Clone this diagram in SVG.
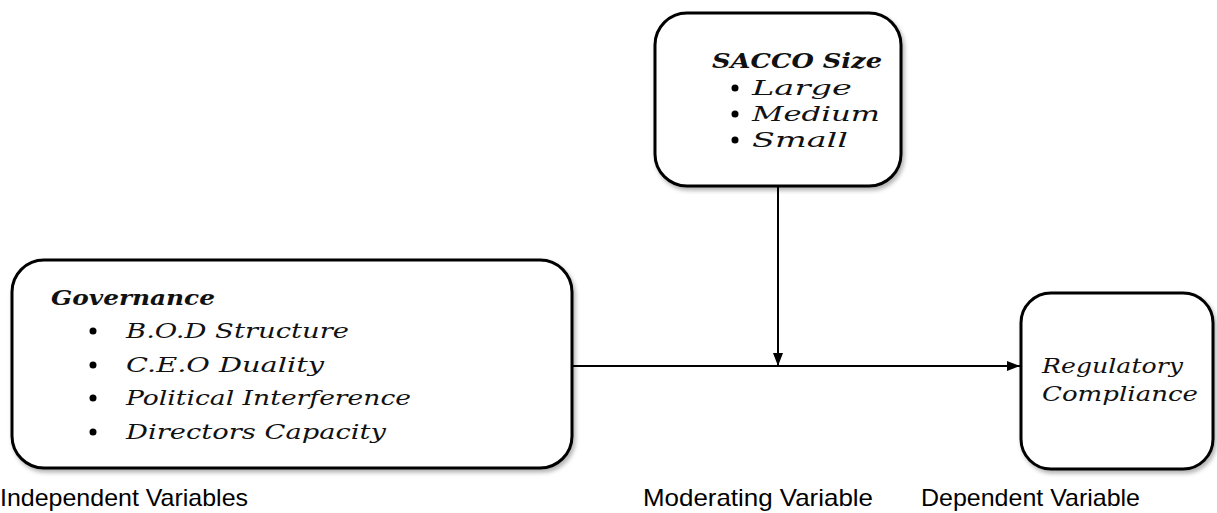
<svg xmlns="http://www.w3.org/2000/svg" width="1217" height="513" viewBox="0 0 1217 513">
<defs>
<marker id="arr" markerWidth="13" markerHeight="10" refX="13" refY="5" orient="auto" markerUnits="userSpaceOnUse">
<path d="M0,0 L13,5 L0,10 Z" fill="#000"/>
</marker>
<filter id="sh" x="-5%" y="-5%" width="110%" height="115%">
<feDropShadow dx="2" dy="3" stdDeviation="2" flood-color="#000" flood-opacity="0.3"/>
</filter>
</defs>
<style>
.box{fill:#fff;stroke:#000;stroke-width:3;filter:url(#sh)}
.t{font-family:"DejaVu Serif","Liberation Serif",serif;font-style:italic;font-size:21px;fill:#111}
.h{font-weight:bold}
.lbl{font-family:"Liberation Sans",Arial,sans-serif;font-size:24px;fill:#000}
.ln{stroke:#000;stroke-width:2;fill:none}
</style>
<rect width="1217" height="513" fill="#fff"/>
<g id="connectors">
<line class="ln" x1="572" y1="366" x2="1020" y2="366" marker-end="url(#arr)"/>
<line class="ln" x1="778" y1="186" x2="778" y2="366" marker-end="url(#arr)"/>
</g>
<g id="sacco">
<rect class="box" x="655" y="13" width="246" height="173" rx="32"/>
<text class="t h" x="712" y="68" textLength="170" lengthAdjust="spacingAndGlyphs">SACCO Size</text>
<circle cx="735" cy="88" r="3.5"/><text class="t" x="752" y="95" textLength="100" lengthAdjust="spacingAndGlyphs">Large</text>
<circle cx="735" cy="114" r="3.5"/><text class="t" x="752" y="121" textLength="128" lengthAdjust="spacingAndGlyphs">Medium</text>
<circle cx="735" cy="140" r="3.5"/><text class="t" x="752" y="147" textLength="96" lengthAdjust="spacingAndGlyphs">Small</text>
</g>
<g id="governance">
<rect class="box" x="12" y="260" width="560" height="208" rx="32"/>
<text class="t h" x="51" y="305" textLength="164" lengthAdjust="spacingAndGlyphs">Governance</text>
<circle cx="93" cy="331" r="3.5"/><text class="t" x="126" y="338" textLength="223" lengthAdjust="spacingAndGlyphs">B.O.D Structure</text>
<circle cx="93" cy="365" r="3.5"/><text class="t" x="126" y="372" textLength="198" lengthAdjust="spacingAndGlyphs">C.E.O Duality</text>
<circle cx="93" cy="398" r="3.5"/><text class="t" x="126" y="405" textLength="285" lengthAdjust="spacingAndGlyphs">Political Interference</text>
<circle cx="93" cy="432" r="3.5"/><text class="t" x="126" y="439" textLength="260" lengthAdjust="spacingAndGlyphs">Directors Capacity</text>
</g>
<g id="regulatory">
<rect class="box" x="1021" y="293" width="192" height="176" rx="30"/>
<text class="t" x="1042" y="373" textLength="141" lengthAdjust="spacingAndGlyphs">Regulatory</text>
<text class="t" x="1042" y="401" textLength="156" lengthAdjust="spacingAndGlyphs">Compliance</text>
</g>
<g id="labels">
<text class="lbl" x="0" y="506" textLength="248" lengthAdjust="spacingAndGlyphs">Independent Variables</text>
<text class="lbl" x="643" y="506" textLength="230" lengthAdjust="spacingAndGlyphs">Moderating Variable</text>
<text class="lbl" x="921" y="506" textLength="219" lengthAdjust="spacingAndGlyphs">Dependent Variable</text>
</g>
</svg>
